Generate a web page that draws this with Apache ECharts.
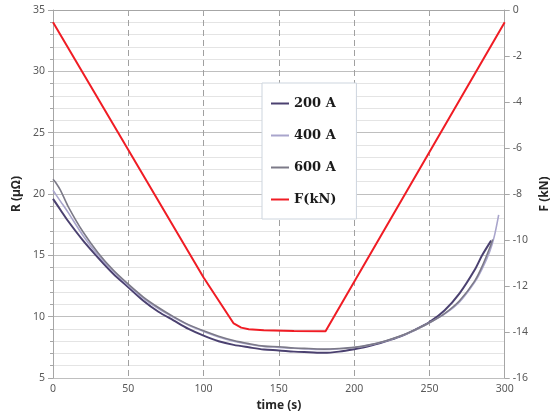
<!DOCTYPE html>
<html>
<head>
<meta charset="utf-8">
<script src="https://cdn.jsdelivr.net/npm/echarts@6/dist/echarts.min.js"></script>
<style>
  html, body { margin: 0; padding: 0; background: #fff; }
  #ec { width: 559px; height: 418px; }
</style>
</head>
<body>
<div id="ec"></div>
<script>
// time (s) and R (µΩ)
var t200 = [0, 5, 10, 20, 30, 40, 50, 60, 70, 80, 90, 100, 110, 120, 130, 140, 150, 160, 170, 180, 190, 200, 210, 220, 230, 240, 250, 260, 270, 280, 285, 291]
var r200 = [19.6, 18.7, 17.8, 16.2, 14.8, 13.5, 12.4, 11.3, 10.4, 9.7, 9.0, 8.45, 8.0, 7.7, 7.5, 7.32, 7.25, 7.15, 7.1, 7.05, 7.15, 7.35, 7.6, 7.95, 8.35, 8.9, 9.55, 10.5, 11.9, 13.8, 15.0, 16.2]
var t400 = [0, 5, 10, 20, 30, 40, 50, 60, 70, 80, 90, 100, 110, 120, 130, 140, 150, 160, 170, 180, 190, 200, 210, 220, 230, 240, 250, 260, 270, 280, 285, 290, 293, 296]
var r400 = [20.3, 19.4, 18.5, 16.6, 15.0, 13.7, 12.55, 11.5, 10.65, 9.95, 9.3, 8.8, 8.35, 8.0, 7.75, 7.58, 7.5, 7.42, 7.36, 7.32, 7.38, 7.48, 7.68, 7.97, 8.38, 8.88, 9.5, 10.2, 11.2, 12.8, 13.9, 15.3, 16.5, 18.3]
var t600 = [0, 2, 5, 10, 20, 30, 40, 50, 60, 70, 80, 90, 100, 110, 120, 130, 140, 150, 160, 170, 180, 190, 200, 210, 220, 230, 240, 250, 260, 270, 280, 285, 290, 292]
var r600 = [21.2, 20.9, 20.3, 19.0, 16.9, 15.2, 13.8, 12.65, 11.6, 10.75, 10.0, 9.35, 8.85, 8.4, 8.05, 7.8, 7.6, 7.55, 7.45, 7.4, 7.35, 7.4, 7.5, 7.7, 8.0, 8.4, 8.9, 9.5, 10.25, 11.3, 12.9, 14.1, 15.6, 16.3]
// force F (kN), right axis
var tF = [0, 100, 120, 125, 130, 140, 160, 181, 300]
var vF = [-0.53, -11.63, -13.63, -13.81, -13.88, -13.92, -13.96, -13.97, -0.53]

function pairs(xs, ys) {
  return xs.map(function (x, i) { return [x, ys[i]] })
}

var labelFont = { color: '#595959', fontSize: 10.5, fontFamily: 'Noto Sans' }
var nameFont = { color: '#262626', fontSize: 12, fontWeight: 'bold', fontFamily: 'Noto Sans' }

var myEchart = echarts.init(document.getElementById('ec'))
myEchart.setOption({
  animation: false,
  backgroundColor: '#fff',
  grid: { left: 53, right: 53, top: 10, bottom: 40 },
  legend: {
    orient: 'vertical',
    left: 262,
    top: 83,
    width: 104,
    padding: [13, 20, 12, 9],
    itemGap: 17,
    itemWidth: 18,
    itemHeight: 2,
    icon: 'rect',
    backgroundColor: '#fff',
    borderColor: '#cdd5de',
    borderWidth: 1,
    textStyle: { fontFamily: 'DejaVu Serif', fontWeight: 'bold', fontSize: 13, color: '#1a1a1a', lineHeight: 15 },
    data: ['200 A', '400 A', '600 A', 'F(kN)']
  },
  xAxis: {
    type: 'value',
    min: 0, max: 300, interval: 50,
    name: 'time (s)',
    nameLocation: 'middle',
    nameGap: 22,
    nameTextStyle: nameFont,
    axisLine: { lineStyle: { color: '#a6a6a6' } },
    axisTick: { show: true, length: 4, lineStyle: { color: '#a6a6a6' } },
    axisLabel: Object.assign({ margin: 6 }, labelFont),
    splitLine: { show: true, lineStyle: { color: '#a0a0a0', type: [6, 4] } }
  },
  yAxis: [{
    type: 'value',
    min: 5, max: 35, interval: 5,
    name: 'R (µΩ)',
    nameLocation: 'middle',
    nameRotate: 90,
    nameGap: 30,
    nameTextStyle: nameFont,
    axisLine: { show: true, lineStyle: { color: '#a6a6a6' } },
    axisTick: { show: true, length: 5, lineStyle: { color: '#a6a6a6' } },
    minorTick: { show: true, splitNumber: 5, length: 3, lineStyle: { color: '#a6a6a6' } },
    axisLabel: Object.assign({ margin: 8 }, labelFont),
    splitLine: { show: true, lineStyle: { color: '#bfbfbf' } },
    minorSplitLine: { show: true, lineStyle: { color: '#e4e4e4' } }
  }, {
    type: 'value',
    min: -16, max: 0, interval: 2,
    name: 'F (kN)',
    nameLocation: 'middle',
    nameRotate: 90,
    nameGap: 32,
    nameTextStyle: nameFont,
    position: 'right',
    axisLine: { show: true, lineStyle: { color: '#a6a6a6' } },
    axisTick: { show: true, length: 5, lineStyle: { color: '#a6a6a6' } },
    axisLabel: Object.assign({ margin: 8 }, labelFont),
    splitLine: { show: false }
  }],
  series: [{
    name: '200 A', type: 'line', yAxisIndex: 0, showSymbol: false, smooth: 0.3,
    lineStyle: { color: '#4b4170', width: 2 }, itemStyle: { color: '#4b4170' },
    data: pairs(t200, r200)
  }, {
    name: '400 A', type: 'line', yAxisIndex: 0, showSymbol: false, smooth: 0.3,
    lineStyle: { color: '#a9a5cc', width: 1.6 }, itemStyle: { color: '#a9a5cc' },
    data: pairs(t400, r400)
  }, {
    name: '600 A', type: 'line', yAxisIndex: 0, showSymbol: false, smooth: 0.3,
    lineStyle: { color: '#7c7a88', width: 1.6 }, itemStyle: { color: '#7c7a88' },
    data: pairs(t600, r600)
  }, {
    name: 'F(kN)', type: 'line', yAxisIndex: 1, showSymbol: false,
    lineStyle: { color: '#f01c24', width: 2 }, itemStyle: { color: '#f01c24' },
    data: pairs(tF, vF)
  }]
})
</script>
</body>
</html>
